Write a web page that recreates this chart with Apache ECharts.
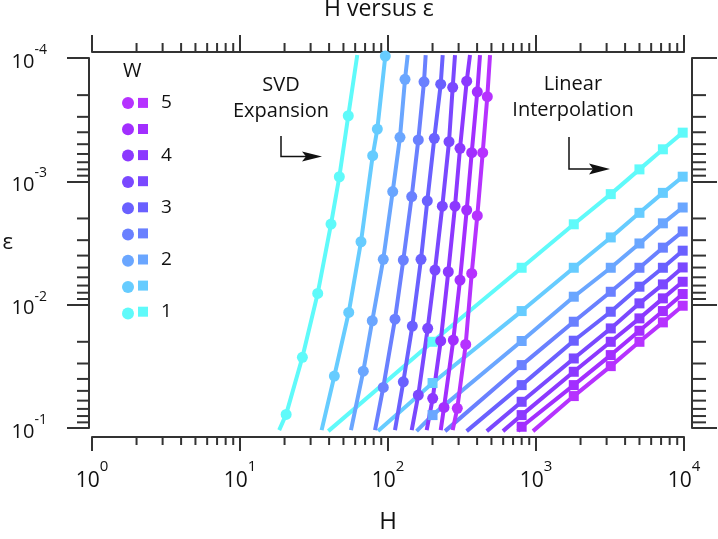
<!DOCTYPE html>
<html>
<head>
<meta charset="utf-8">
<script src="https://cdn.jsdelivr.net/npm/echarts@6/dist/echarts.min.js"></script>
<style>
html, body { margin: 0; padding: 0; background: #fff; }
#chart { width: 718px; height: 539px; }
</style>
</head>
<body>
<div id="chart"></div>
<script>
// ---- data ----
var W = [1, 1.5, 2, 2.5, 3, 3.5, 4, 4.5, 5];
var wLabels = ['1', ' ', '2', ' ', '3', ' ', '4', ' ', '5'];
var colors = ['#5ffafa', '#66ccff', '#6aa6ff', '#6a80ff', '#6a60ff', '#7a48ff', '#8c38ff', '#a22eff', '#b632ff'];

// SVD expansion: circles, bottom -> top
var svdH = [
  [20.5, 26.4, 33.5, 41.2, 46.9, 53.9],
  [43.4, 54.3, 65.7, 78.8, 84.7, 95.9],
  [68.1, 78.3, 92.9, 107.6, 120.5, 130.3],
  [92.9, 111.5, 126.9, 144.6, 160.2, 175.1],
  [126.9, 146, 167.1, 184.3, 205.5, 227.1],
  [160.2, 185.5, 207.8, 232.8, 258.4, 273.6],
  [200.5, 227.1, 255.5, 283.6, 306.6, 340.2],
  [239, 276.2, 306.6, 340.2, 367.8, 401.2],
  [293.9, 335, 367.8, 401.2, 436.4, 468.8]
];
var svdEps = [
  [0.0776, 0.0267, 0.0081, 0.00222, 0.000918, 0.000294],
  [0.0379, 0.01155, 0.00309, 0.00062, 0.000377, 0.0000964],
  [0.0346, 0.0135, 0.00429, 0.00121, 0.00044, 0.000149],
  [0.0469, 0.0131, 0.00435, 0.00133, 0.000462, 0.000156],
  [0.0422, 0.0149, 0.00429, 0.00144, 0.000448, 0.000163],
  [0.0541, 0.01556, 0.00524, 0.00159, 0.000477, 0.000173],
  [0.0575, 0.0197, 0.00541, 0.00159, 0.00054, 0.000154],
  [0.0681, 0.01937, 0.00632, 0.00171, 0.000586, 0.000188],
  [0.0693, 0.021, 0.00558, 0.0019, 0.000586, 0.000206]
];
// where each SVD line leaves the frame (no marker there)
var svdBottomH = [18.4, 35.6, 56.2, 81.7, 111.5, 144.6, 182.6, 227.1, 273.6];
var svdBottomEps = 0.104;
var svdTopH = [62.0, null, 135.9, 179.7, 234.2, 283.6, 358.2, 418.4, 489];
var svdTopEps = 0.0000946;

// Linear interpolation: squares
var liH = [200, 800, 1800, 3200, 5000, 7200, 9800];
var liEps = [
  [0.02, 0.00502, 0.00223, 0.00127, 0.0008, 0.00055, 0.000403],
  [0.0432, 0.01127, 0.00502, 0.00285, 0.0018, 0.00124, 0.000917],
  [0.0786, 0.0197, 0.00862, 0.00502, 0.00319, 0.00219, 0.00163],
  [null, 0.0309, 0.01375, 0.00786, 0.00502, 0.00345, 0.00255],
  [null, 0.0449, 0.0196, 0.01141, 0.00715, 0.00502, 0.00365],
  [null, 0.0613, 0.0273, 0.01558, 0.00976, 0.00685, 0.00499],
  [null, 0.0786, 0.035, 0.02, 0.01292, 0.00889, 0.00652],
  [null, 0.0977, 0.0449, 0.02564, 0.01627, 0.01127, 0.0082],
  [null, null, 0.0551, 0.0315, 0.02, 0.01392, 0.0102]
];
// where each interpolation line enters at the bottom (no marker there)
var liStartH = [39.5, 85.6, 156, 243, 340, 465, 598, 756, 954];
var liStartEps = 0.106;

var xMinorTicks = [];
[1, 10, 100, 1000].forEach(function (d) { for (var k = 2; k <= 9; k++) xMinorTicks.push(k * d); });
var yMinorTicks = [];
[0.0001, 0.001, 0.01].forEach(function (d) { for (var k = 2; k <= 9; k++) yMinorTicks.push(k * d); });

// ---- chart ----
var axisColor = '#333';
var font = 'Open Sans';
var clear = 'rgba(0,0,0,0)';
var chart = echarts.init(document.getElementById('chart'));

// two-line label: exponent on the upper line, base on the lower one;
// invisible copies keep both lines the same width
function powLabel(v) {
  var e = Math.round(Math.log(v) / Math.LN10);
  return '{g|10}{s|' + e + '}\n{b|10}{h|' + e + '}';
}
function powRich(baseSize, supSize, upperLH, lowerLH) {
  return {
    g: { fontFamily: font, fontSize: baseSize, lineHeight: upperLH, color: clear },
    s: { fontFamily: font, fontSize: supSize, lineHeight: upperLH, color: '#111' },
    b: { fontFamily: font, fontSize: baseSize, lineHeight: lowerLH, color: '#111' },
    h: { fontFamily: font, fontSize: supSize, lineHeight: lowerLH, color: clear }
  };
}

function axisBase(pos, offset, tickLen, rich, margin) {
  return {
    type: 'log',
    logBase: 10,
    position: pos,
    offset: offset,
    nameMoveOverlap: false,
    axisLine: { onZero: false, lineStyle: { color: axisColor, width: 2 } },
    axisTick: { length: tickLen, lineStyle: { color: axisColor, width: 2 } },
    splitLine: { show: false },
    minorTick: { show: false },
    axisLabel: rich ? { margin: margin, formatter: powLabel, rich: rich } : { show: false }
  };
}

var xBottom = axisBase('bottom', 9, 14, powRich(21, 15, 12, 16), 24);
xBottom.min = 1; xBottom.max = 10000;
xBottom.name = 'H';
xBottom.nameLocation = 'middle';
xBottom.nameGap = 73;
xBottom.nameTextStyle = { fontFamily: font, fontSize: 24, color: '#111' };
var xTop = axisBase('top', 6, 17, null);
xTop.min = 1; xTop.max = 10000;

var yLeft = axisBase('left', 3, 22, powRich(20, 14, 8, 16), 42);
yLeft.min = 0.0001; yLeft.max = 0.1; yLeft.inverse = true;
yLeft.name = 'ε';
yLeft.nameLocation = 'middle';
yLeft.nameRotate = 0;
yLeft.nameGap = 76;
yLeft.nameTextStyle = { fontFamily: font, fontSize: 22, color: '#111' };
var yRight = axisBase('right', 8, 25, null);
yRight.min = 0.0001; yRight.max = 0.1; yRight.inverse = true;

function minorTicks(values, isX) {
  return {
    type: 'custom',
    coordinateSystem: 'cartesian2d',
    xAxisIndex: 0,
    yAxisIndex: 0,
    silent: true,
    clip: false,
    data: values.map(function (v) { return isX ? [v, 0.01] : [10, v]; }),
    renderItem: function (params, api) {
      var cs = params.coordSys;
      var p = api.coord([api.value(0), api.value(1)]);
      var st = { stroke: axisColor, lineWidth: 2 };
      if (isX) {
        var yb = cs.y + cs.height + 9, yt = cs.y - 6;
        return { type: 'group', children: [
          { type: 'line', shape: { x1: p[0], y1: yb, x2: p[0], y2: yb + 8 }, style: st },
          { type: 'line', shape: { x1: p[0], y1: yt, x2: p[0], y2: yt - 9 }, style: st }
        ] };
      }
      var xl = cs.x - 3, xr = cs.x + cs.width + 8;
      return { type: 'group', children: [
        { type: 'line', shape: { x1: xl, y1: p[1], x2: xl - 12, y2: p[1] }, style: st },
        { type: 'line', shape: { x1: xr, y1: p[1], x2: xr + 14, y2: p[1] }, style: st }
      ] };
    }
  };
}

var series = [minorTicks(xMinorTicks, true), minorTicks(yMinorTicks, false)];

// interpolation lines first so the SVD lines sit on top
W.forEach(function (w, i) {
  var data = [{ value: [liStartH[i], liStartEps], symbol: 'none' }];
  liH.forEach(function (h, j) {
    if (liEps[i][j] != null) data.push([h, liEps[i][j]]);
  });
  series.push({
    name: 'LI ' + w,
    type: 'line',
    clip: false,
    symbol: 'rect',
    symbolSize: 10,
    data: data,
    lineStyle: { color: colors[i], width: 4 },
    itemStyle: { color: colors[i], borderWidth: 0 }
  });
});

W.forEach(function (w, i) {
  var data = [{ value: [svdBottomH[i], svdBottomEps], symbol: 'none' }];
  svdH[i].forEach(function (h, j) { data.push([h, svdEps[i][j]]); });
  if (svdTopH[i] != null) data.push({ value: [svdTopH[i], svdTopEps], symbol: 'none' });
  series.push({
    name: 'SVD ' + w,
    type: 'line',
    clip: false,
    symbol: 'circle',
    symbolSize: 11,
    data: data,
    lineStyle: { color: colors[i], width: 4 },
    itemStyle: { color: colors[i], borderWidth: 0 }
  });
});

var legendOrder = W.slice().reverse();

var option = {
  animation: false,
  backgroundColor: '#fff',
  title: {
    text: 'H versus ε',
    left: 324,
    top: -2,
    padding: 0,
    textStyle: { fontFamily: font, fontSize: 23, fontWeight: 'normal', color: '#111' }
  },
  grid: { left: 92, right: 34, top: 58, bottom: 111, containLabel: false, outerBoundsMode: 'none' },
  legend: [
    {
      orient: 'vertical', left: 122, top: 97, padding: 0,
      itemWidth: 12, itemHeight: 12, itemGap: 14.3,
      icon: 'circle', selectedMode: false,
      data: legendOrder.map(function (w) { return 'SVD ' + w; }),
      formatter: function () { return ''; },
      textStyle: { fontSize: 12, lineHeight: 12 }
    },
    {
      orient: 'vertical', left: 138, top: 93.4, padding: 0,
      itemWidth: 10, itemHeight: 10, itemGap: 7.1,
      icon: 'rect', selectedMode: false,
      data: legendOrder.map(function (w) { return 'LI ' + w; }),
      formatter: function (name) { return wLabels[W.indexOf(+name.split(' ')[1])]; },
      textStyle: { fontFamily: font, fontSize: 19, color: '#111', padding: [0, 0, 0, 8] }
    }
  ],
  xAxis: [xBottom, xTop],
  yAxis: [yLeft, yRight],
  graphic: [
    { type: 'text', left: 123, top: 61, style: { text: 'W', fontFamily: font, fontSize: 20, fill: '#111' } },
    { type: 'text', x: 281, y: 72, style: { text: 'SVD\nExpansion', fontFamily: font, fontSize: 20, lineHeight: 26, align: 'center', fill: '#111' } },
    { type: 'polyline', shape: { points: [[281, 136], [281, 156.5], [308, 156.5]] }, style: { stroke: '#111', lineWidth: 1.5, fill: null } },
    { type: 'polygon', shape: { points: [[302, 151.5], [322, 156.5], [302, 161.5], [306, 156.5]] }, style: { fill: '#111' } },
    { type: 'text', x: 573, y: 71, style: { text: 'Linear\nInterpolation', fontFamily: font, fontSize: 20, lineHeight: 26, align: 'center', fill: '#111' } },
    { type: 'polyline', shape: { points: [[569, 137], [569, 169], [594, 169]] }, style: { stroke: '#111', lineWidth: 1.5, fill: null } },
    { type: 'polygon', shape: { points: [[589, 163.5], [610, 169], [589, 174.5], [593, 169]] }, style: { fill: '#111' } }
  ],
  series: series
};

chart.setOption(option);
</script>
</body>
</html>
